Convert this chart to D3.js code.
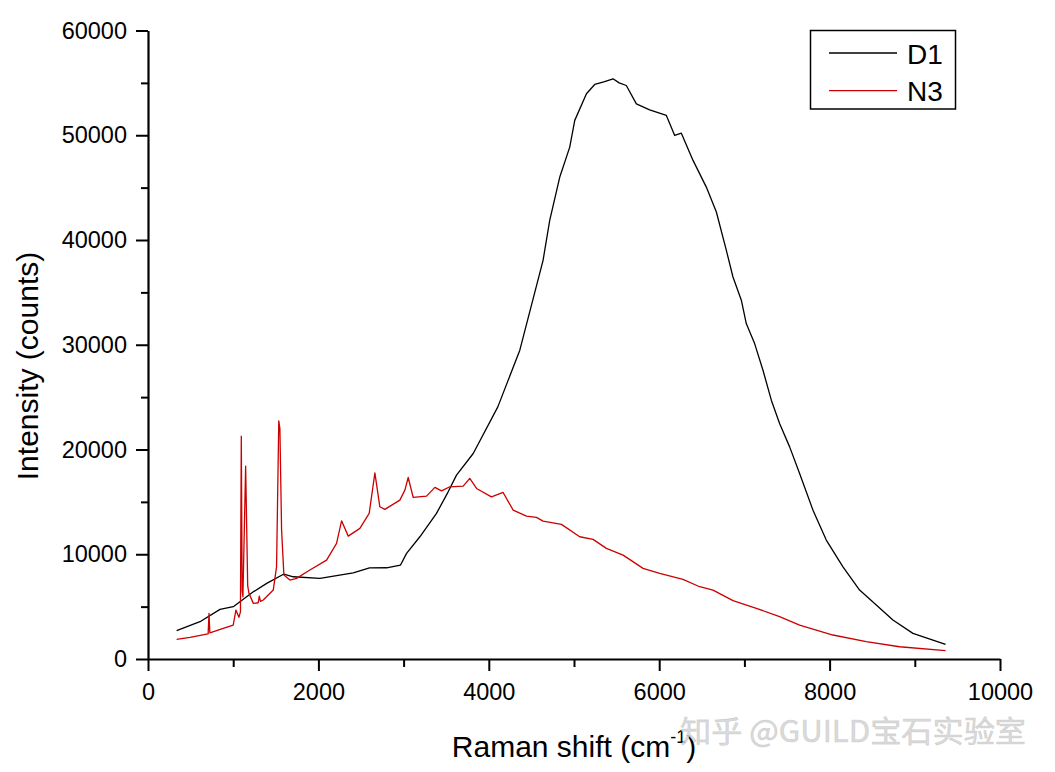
<!DOCTYPE html>
<html>
<head>
<meta charset="utf-8">
<script src="https://cdn.jsdelivr.net/npm/d3@7"></script>
<style>
  html, body { margin: 0; padding: 0; background: #fff; }
  svg { display: block; font-family: "Liberation Sans", Arial, sans-serif; }
</style>
</head>
<body>
<svg id="chart" width="1055" height="772"></svg>
<script>
// ---- data ----
const seriesNames = ["D1", "N3"];
const xTicks = [0, 2000, 4000, 6000, 8000, 10000];
const yTicks = [0, 10000, 20000, 30000, 40000, 50000, 60000];

const d1Shift = [336, 610, 845, 1001, 1232, 1393, 1595, 1705, 2018, 2409, 2600, 2800, 2964, 3035, 3191, 3386, 3523, 3621, 3817, 4106, 4364, 4637, 4715, 4833, 4950, 5009, 5146, 5243, 5350, 5458, 5530, 5614, 5732, 5888, 6084, 6182, 6260, 6397, 6553, 6671, 6788, 6866, 6964, 7022, 7120, 7218, 7316, 7413, 7531, 7648, 7805, 7961, 8157, 8352, 8548, 8743, 8978, 9213, 9361];
const d1Counts = [2700, 3560, 4740, 4990, 6390, 7220, 8110, 7850, 7700, 8230, 8700, 8710, 8970, 10080, 11670, 13900, 15960, 17550, 19620, 24070, 29480, 38060, 41880, 46010, 48870, 51420, 53960, 54850, 55100, 55390, 55000, 54750, 53000, 52430, 51890, 49980, 50200, 47600, 45050, 42670, 39010, 36470, 34250, 32020, 30110, 27570, 24710, 22480, 20250, 17710, 14210, 11350, 8800, 6580, 5150, 3720, 2450, 1810, 1400];

const n3Shift = [336, 493, 688, 706, 716, 726, 883, 1000, 1032, 1067, 1085, 1095, 1105, 1114, 1146, 1170, 1185, 1236, 1294, 1306, 1320, 1353, 1470, 1509, 1535, 1548, 1568, 1595, 1666, 1744, 1900, 2096, 2213, 2272, 2350, 2487, 2596, 2663, 2721, 2780, 2956, 3015, 3054, 3113, 3269, 3367, 3445, 3543, 3699, 3777, 3856, 4031, 4168, 4286, 4442, 4559, 4637, 4853, 5067, 5224, 5380, 5576, 5811, 6006, 6279, 6475, 6632, 6866, 7140, 7413, 7648, 8039, 8430, 8821, 9361];
const n3Counts = [1880, 2070, 2380, 2400, 4360, 2500, 2930, 3240, 4670, 3980, 4500, 21270, 6500, 5940, 18410, 7000, 6270, 5310, 5370, 6010, 5500, 5630, 6580, 8800, 22730, 22000, 12300, 8010, 7540, 7700, 8490, 9440, 11040, 13190, 11730, 12470, 13900, 17770, 14530, 14280, 15170, 16120, 17330, 15420, 15550, 16380, 16050, 16440, 16500, 17240, 16280, 15480, 15900, 14210, 13640, 13520, 13160, 12850, 11670, 11420, 10560, 9920, 8650, 8170, 7600, 6900, 6580, 5570, 4840, 4040, 3240, 2290, 1650, 1170, 790];

const colors = ["#000000", "#cc0000"];

// ---- chart ----
const svg = d3.select("#chart");
const x = d3.scaleLinear().domain([0, 10000]).range([148, 1000]);
const y = d3.scaleLinear().domain([0, 60000]).range([659, 30.5]);

const series = [
  { name: seriesNames[0], pts: d1Shift.map((v, i) => [v, d1Counts[i]]), color: colors[0] },
  { name: seriesNames[1], pts: n3Shift.map((v, i) => [v, n3Counts[i]]), color: colors[1] }
];

const line = d3.line().x(d => x(d[0])).y(d => y(d[1]));
series.forEach(s => {
  svg.append("path").datum(s.pts)
    .attr("d", line).attr("fill", "none")
    .attr("stroke", s.color).attr("stroke-width", 1.3)
    .attr("stroke-linejoin", "round");
});

// minor ticks
const xMinor = d3.range(0, 10001, 1000).filter(v => v % 2000 !== 0);
const yMinor = d3.range(0, 60001, 5000).filter(v => v % 10000 !== 0);

svg.append("g").attr("transform", "translate(0,659)")
  .call(d3.axisBottom(x).tickValues(xMinor).tickSize(8).tickFormat(""))
  .call(g => g.select(".domain").remove())
  .call(g => g.selectAll("line").attr("stroke-width", 2));
svg.append("g").attr("transform", "translate(148,0)")
  .call(d3.axisLeft(y).tickValues(yMinor).tickSize(7).tickFormat(""))
  .call(g => g.select(".domain").remove())
  .call(g => g.selectAll("line").attr("stroke-width", 2));

const xAxis = svg.append("g").attr("transform", "translate(0,659)")
  .call(d3.axisBottom(x).tickValues(xTicks).tickSize(12).tickSizeOuter(0).tickPadding(12).tickFormat(d3.format("d")));
xAxis.select(".domain").attr("stroke-width", 2.2);
xAxis.selectAll("line").attr("stroke-width", 2);
xAxis.selectAll("text").attr("font-size", 23.5).attr("fill", "#000")
  .attr("font-family", "Liberation Sans, Arial, sans-serif");

const yAxis = svg.append("g").attr("transform", "translate(148,0)")
  .call(d3.axisLeft(y).tickValues(yTicks).tickSize(12).tickSizeOuter(0).tickPadding(9).tickFormat(d3.format("d")));
yAxis.select(".domain").attr("stroke-width", 2.2);
yAxis.selectAll("line").attr("stroke-width", 2);
yAxis.selectAll("text").attr("font-size", 23.5).attr("fill", "#000")
  .attr("font-family", "Liberation Sans, Arial, sans-serif");

// axis titles
const xt = svg.append("text").attr("x", 574).attr("y", 757)
  .attr("text-anchor", "middle").attr("font-size", 30).attr("fill", "#000");
xt.append("tspan").text("Raman shift (cm");
xt.append("tspan").attr("font-size", 18).attr("dy", -14).text("-1");
xt.append("tspan").attr("dy", 14).text(")");

svg.append("text").attr("transform", "translate(38,366) rotate(-90)")
  .attr("text-anchor", "middle").attr("font-size", 30).attr("fill", "#000")
  .text("Intensity (counts)");

// legend
const lg = svg.append("g");
lg.append("rect").attr("x", 810.5).attr("y", 30.5).attr("width", 145).attr("height", 78.5)
  .attr("fill", "#fff").attr("stroke", "#000").attr("stroke-width", 1.5);
series.forEach((s, i) => {
  const yy = 53 + i * 37.7;
  lg.append("line").attr("x1", 829).attr("x2", 897).attr("y1", yy).attr("y2", yy)
    .attr("stroke", s.color).attr("stroke-width", 1.3);
  lg.append("text").attr("x", 907).attr("y", yy + 10.5).attr("font-size", 28).attr("fill", "#000")
    .text(s.name);
});

// watermark
svg.append("text").attr("x", 680).attr("y", 742)
  .attr("font-family", "Noto Sans CJK SC, sans-serif").attr("font-size", 30)
  .attr("textLength", 346).attr("lengthAdjust", "spacingAndGlyphs")
  .attr("fill", "#d4d4d4").attr("fill-opacity", 0.85)
  .attr("stroke", "#bdbdbd").attr("stroke-width", 0.6).attr("stroke-opacity", 0.6)
  .text("知乎 @GUILD宝石实验室");
</script>
</body>
</html>
